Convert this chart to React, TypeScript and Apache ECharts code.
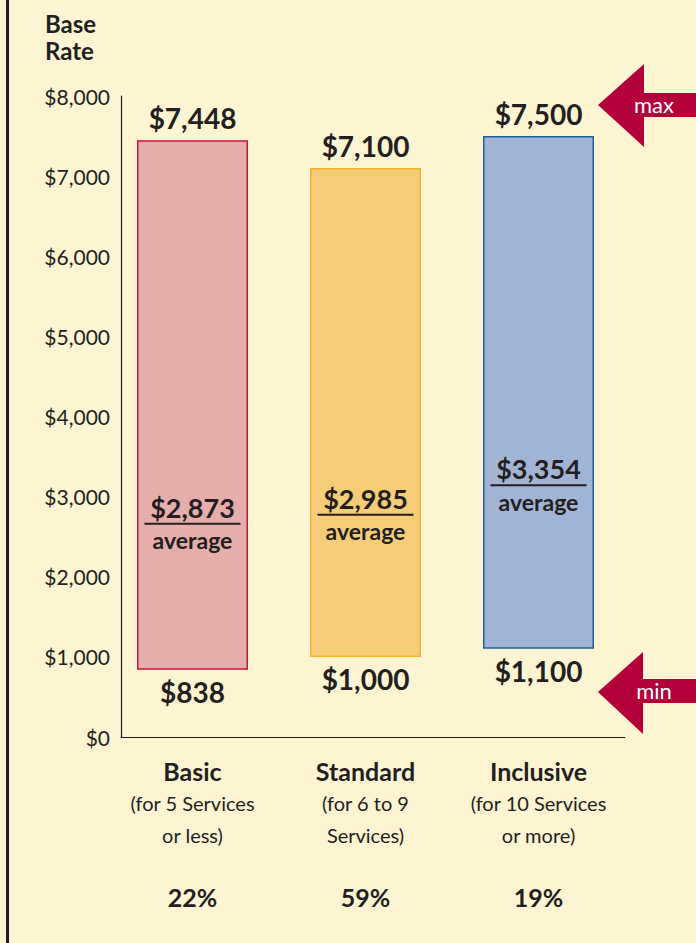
import React, { useEffect, useRef } from "react";
import * as echarts from "echarts";

const categories = ["Basic", "Standard", "Inclusive"];
const descLine1 = ["(for 5 Services", "(for 6 to 9", "(for 10 Services"];
const descLine2 = ["or less)", "Services)", "or more)"];
const shares = ["22%", "59%", "19%"];
const minValues = [838, 1000, 1100];
const maxValues = [7448, 7100, 7500];
const avgValues = [2873, 2985, 3354];
const yTicks = [0, 1000, 2000, 3000, 4000, 5000, 6000, 7000, 8000];

const fills = ["#E6AEAA", "#F5CD78", "#A2B4D6"];
const borders = ["#D0103A", "#F5B52A", "#1F5F9A"];

const BG = "#FDF4D2";
const INK = "#231F20";
const CRIMSON = "#B3003A";
const FONT = "Lato, 'Noto Sans', sans-serif";

const money = (v: number) => "$" + v.toLocaleString("en-US");

export default function App() {
  const ref = useRef<HTMLDivElement>(null);
  useEffect(() => {
    if (!ref.current) return;
    const chart = echarts.init(ref.current, undefined, { renderer: "svg" });
    const top = 96;
    const bottom = 943 - 737;
    const option: any = {
      animation: false,
      backgroundColor: BG,
      textStyle: { fontFamily: FONT },
      title: {
        text: "Base\nRate",
        left: 40,
        top: 5,
        textStyle: { fontFamily: FONT, fontSize: 24, fontWeight: "bold", color: INK, lineHeight: 27 },
      },
      grid: [
        { left: 121, right: 71, top, bottom },
        { left: 106, right: 71, top, bottom },
      ],
      xAxis: [
        {
          gridIndex: 0,
          type: "category",
          data: categories,
          axisLine: { show: true, lineStyle: { color: INK, width: 1.2 } },
          axisTick: { show: false },
          axisLabel: { show: false },
        },
        {
          gridIndex: 1,
          type: "category",
          data: categories,
          axisLine: { show: false },
          axisTick: { show: false },
          axisLabel: {
            margin: 18,
            interval: 0,
            formatter: (_v: string, i: number) =>
              `{t|${categories[i]}}\n{d|${descLine1[i]}}\n{d|${descLine2[i]}}\n{s| }\n{p|${shares[i]}}`,
            rich: {
              t: { fontFamily: FONT, fontSize: 25, fontWeight: "bold", color: INK, lineHeight: 32 },
              d: { fontFamily: FONT, fontSize: 20, fontWeight: "normal", color: INK, lineHeight: 32 },
              s: { fontSize: 10, lineHeight: 30 },
              p: { fontFamily: FONT, fontSize: 25, fontWeight: "bold", color: INK, lineHeight: 32 },
            },
          },
        },
      ],
      yAxis: [
        {
          gridIndex: 0,
          type: "value",
          min: yTicks[0],
          max: yTicks[yTicks.length - 1],
          interval: 1000,
          axisLine: { show: true, lineStyle: { color: INK, width: 1.2 } },
          axisTick: { show: false },
          splitLine: { show: false },
          axisLabel: {
            margin: 11,
            fontFamily: FONT,
            fontSize: 21,
            fontWeight: "normal",
            color: INK,
            formatter: (v: number) => money(v),
          },
        },
        {
          gridIndex: 1,
          type: "value",
          min: yTicks[0],
          max: yTicks[yTicks.length - 1],
          interval: 1000,
          show: false,
          splitLine: { show: false },
        },
      ],
      series: [
        {
          type: "bar",
          xAxisIndex: 1,
          yAxisIndex: 1,
          stack: "range",
          barWidth: 111,
          data: minValues.map((v) => ({ value: v })),
          itemStyle: { color: "transparent" },
          label: {
            show: true,
            position: "insideTop",
            distance: 8,
            formatter: (p: any) => money(p.value),
            fontFamily: FONT,
            fontSize: 28,
            fontWeight: "bold",
            color: INK,
          },
          silent: true,
        },
        {
          type: "bar",
          xAxisIndex: 1,
          yAxisIndex: 1,
          stack: "range",
          barWidth: 111,
          data: maxValues.map((v, i) => ({
            value: v - minValues[i],
            itemStyle: { color: fills[i], borderColor: borders[i], borderWidth: 1.5 },
          })),
          label: {
            show: true,
            position: "top",
            distance: 8,
            formatter: (p: any) => money(maxValues[p.dataIndex]),
            fontFamily: FONT,
            fontSize: 28,
            fontWeight: "bold",
            color: INK,
          },
        },
        {
          type: "scatter",
          xAxisIndex: 1,
          yAxisIndex: 1,
          symbol: "rect",
          symbolSize: [96, 2],
          symbolOffset: [0, 17],
          itemStyle: { color: INK, opacity: 1 },
          data: avgValues.map((v, i) => [categories[i], v]),
          label: {
            show: true,
            position: "inside",
            color: INK,
            fontWeight: "bold",
            textBorderWidth: 0,
            formatter: (p: any) => `{v|${money(p.value[1])}}\n{a|average}`,
            rich: {
              v: { fontFamily: FONT, fontSize: 27, fontWeight: "bold", color: INK, lineHeight: 33, textBorderWidth: 0 },
              a: { fontFamily: FONT, fontSize: 23, fontWeight: "bold", color: INK, lineHeight: 33, textBorderWidth: 0 },
            },
          },
          z: 5,
        },
      ],
      graphic: [
        { type: "rect", shape: { x: 6, y: 0, width: 3, height: 943 }, style: { fill: INK } },
        {
          type: "polygon",
          shape: { points: [[598, 105], [644, 64], [644, 93], [696, 93], [696, 117], [644, 117], [644, 147]] },
          style: { fill: CRIMSON },
        },
        {
          type: "text",
          x: 654,
          y: 104,
          z: 10,
          style: { text: "max", fill: "#fff", font: `22px ${FONT}`, align: "center", verticalAlign: "middle" },
        },
        {
          type: "polygon",
          shape: { points: [[598, 692], [643, 652], [643, 679], [696, 679], [696, 703], [643, 703], [643, 734]] },
          style: { fill: CRIMSON },
        },
        {
          type: "text",
          x: 654,
          y: 690,
          z: 10,
          style: { text: "min", fill: "#fff", font: `22px ${FONT}`, align: "center", verticalAlign: "middle" },
        },
      ],
    };
    chart.setOption(option);
    return () => chart.dispose();
  }, []);
  return <div ref={ref} style={{ position: "fixed", left: 0, top: 0, width: 696, height: 943 }} />;
}
